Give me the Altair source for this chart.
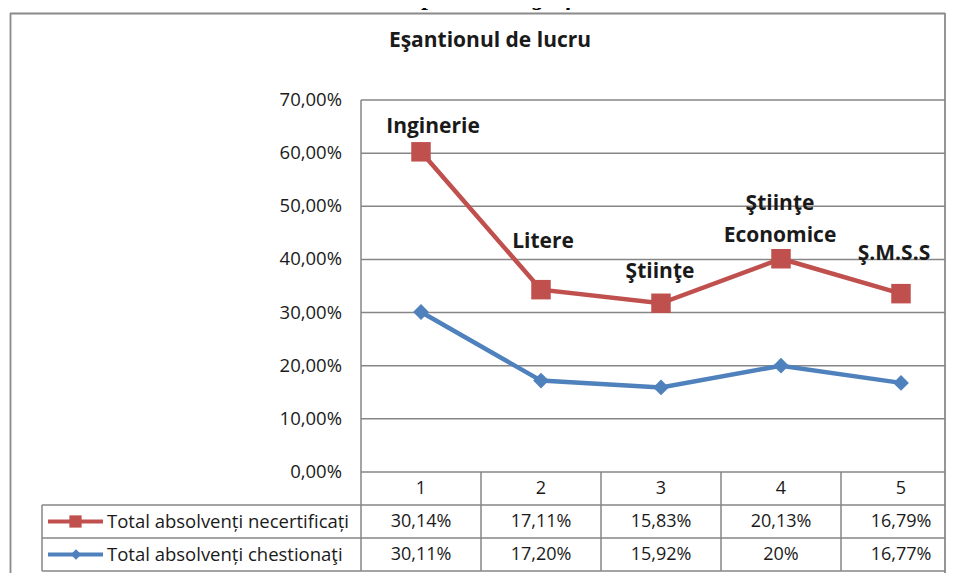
import altair as alt
import pandas as pd

# ---------------- data ----------------
categories = [1, 2, 3, 4, 5]
category_names = ["Inginerie", "Litere", "Ştiinţe", "Ştiinţe\nEconomice", "Ş.M.S.S"]
necertificati = [30.14, 17.11, 15.83, 20.13, 16.79]
chestionati = [30.11, 17.20, 15.92, 20.00, 16.77]
necertificati_labels = ["30,14%", "17,11%", "15,83%", "20,13%", "16,79%"]
chestionati_labels = ["30,11%", "17,20%", "15,92%", "20%", "16,77%"]
series_names = ["Total absolvenți necertificați", "Total absolvenți chestionaţi"]
y_ticks = [0, 10, 20, 30, 40, 50, 60, 70]
chart_title = "Eşantionul de lucru"
top_caption = "Reprezentare grafică"

RED = "#C0504D"
BLUE = "#4F81BD"
GRID = "#868686"
TXT = "#1a1a1a"
FONT = "Open Sans"

# ---------------- layout (page pixels -> scale units) ----------------
PLOT_LEFT, PLOT_TOP, W, H = 10, 13, 936, 560
PX_PER_CAT = 120.0
PX_PER_PCT = 372.0 / 70.0
XD0 = 0.5 - (361 - PLOT_LEFT) / PX_PER_CAT
XD1 = XD0 + W / PX_PER_CAT
YD1 = 70 + (100 - PLOT_TOP) / PX_PER_PCT
YD0 = YD1 - H / PX_PER_PCT


def X(px):
    return XD0 + (px - PLOT_LEFT) / PX_PER_CAT


def Y(py):
    return (472 - py) / PX_PER_PCT


xs = alt.Scale(domain=[XD0, XD1], nice=False, zero=False)
ys = alt.Scale(domain=[YD0, YD1], nice=False, zero=False)

ROW_LINES = [472, 505, 538, 571]
ROW_CENTERS = [488.5, 521.5, 554.5]
RIGHT = 945


def rules(df, color=GRID, width=1.5):
    return alt.Chart(df).mark_rule(color=color, strokeWidth=width).encode(
        x=alt.X("x:Q", scale=xs, axis=None),
        x2="x2:Q",
        y=alt.Y("y:Q", scale=ys, axis=None),
        y2="y2:Q",
    )


def texts(df, **kw):
    return alt.Chart(df).mark_text(font=FONT, color=TXT, **kw).encode(
        x=alt.X("x:Q", scale=xs, axis=None),
        y=alt.Y("y:Q", scale=ys, axis=None),
        text="t:N",
    )


# frame (left, top, right)
frame = rules(pd.DataFrame([
    dict(x=X(10.5), x2=X(10.5), y=Y(13), y2=Y(580)),
    dict(x=X(10), x2=X(RIGHT), y=Y(13.5), y2=Y(13.5)),
    dict(x=X(RIGHT), x2=X(RIGHT), y=Y(13), y2=Y(580)),
]), color="#8a8a8a", width=1.8)

# horizontal gridlines
grid = rules(pd.DataFrame([dict(x=0.5, x2=X(RIGHT), y=v, y2=v) for v in y_ticks]))

# vertical axis line + table column lines
vlines = rules(pd.DataFrame(
    [dict(x=0.5, x2=0.5, y=70, y2=Y(ROW_LINES[-1]))]
    + [dict(x=c + 0.5, x2=c + 0.5, y=0, y2=Y(ROW_LINES[-1])) for c in categories[:-1]]
    + [dict(x=X(42), x2=X(42), y=Y(ROW_LINES[1]), y2=Y(ROW_LINES[-1]))]
))

# table horizontal lines
hlines = rules(pd.DataFrame(
    [dict(x=X(42), x2=X(RIGHT), y=Y(r), y2=Y(r)) for r in ROW_LINES[1:]]
))

# y-axis labels
ylab = texts(pd.DataFrame(
    [dict(x=X(342), y=v, t=f"{v:.2f}".replace(".", ",") + "%") for v in y_ticks]
), align="right", baseline="middle", fontSize=18.5)

# table header + values
header = texts(pd.DataFrame(
    [dict(x=c, y=Y(ROW_CENTERS[0]), t=str(c)) for c in categories]
), align="center", baseline="middle", fontSize=18)
vals = texts(pd.DataFrame(
    [dict(x=c, y=Y(ROW_CENTERS[1]), t=l) for c, l in zip(categories, necertificati_labels)]
    + [dict(x=c, y=Y(ROW_CENTERS[2]), t=l) for c, l in zip(categories, chestionati_labels)]
), align="center", baseline="middle", fontSize=18)

# legend in table
leg_lines = alt.layer(
    rules(pd.DataFrame([dict(x=X(48), x2=X(103), y=Y(ROW_CENTERS[1]), y2=Y(ROW_CENTERS[1]))]),
          color=RED, width=4),
    rules(pd.DataFrame([dict(x=X(48), x2=X(103), y=Y(ROW_CENTERS[2]), y2=Y(ROW_CENTERS[2]))]),
          color=BLUE, width=4),
)
leg_sq = alt.Chart(pd.DataFrame([dict(x=X(75.5), y=Y(ROW_CENTERS[1]))])).mark_point(
    shape="square", filled=True, color=RED, size=150, opacity=1).encode(
    x=alt.X("x:Q", scale=xs, axis=None), y=alt.Y("y:Q", scale=ys, axis=None))
leg_di = alt.Chart(pd.DataFrame([dict(x=X(76), y=Y(ROW_CENTERS[2]))])).mark_point(
    shape="diamond", filled=True, color=BLUE, size=110, opacity=1).encode(
    x=alt.X("x:Q", scale=xs, axis=None), y=alt.Y("y:Q", scale=ys, axis=None))
leg_txt = texts(pd.DataFrame([
    dict(x=X(107), y=Y(ROW_CENTERS[1]), t=series_names[0]),
    dict(x=X(107), y=Y(ROW_CENTERS[2]), t=series_names[1]),
]), align="left", baseline="middle", fontSize=18.5)

# series (stacked line: red on top of blue)
df_blue = pd.DataFrame({"c": categories, "v": chestionati})
df_red = pd.DataFrame({"c": categories,
                       "v": [a + b for a, b in zip(chestionati, necertificati)]})

enc = dict(x=alt.X("c:Q", scale=xs, axis=None), y=alt.Y("v:Q", scale=ys, axis=None))
blue_line = alt.Chart(df_blue).mark_line(color=BLUE, strokeWidth=4.5).encode(**enc)
blue_pts = alt.Chart(df_blue).mark_point(shape="diamond", filled=True, color=BLUE,
                                         size=250, opacity=1).encode(**enc)
red_line = alt.Chart(df_red).mark_line(color=RED, strokeWidth=4.5).encode(**enc)
red_pts = alt.Chart(df_red).mark_point(shape="square", filled=True, color=RED,
                                       size=380, opacity=1).encode(**enc)

# category labels (offsets in px relative to red point)
label_dx = [12, 2, -1, -1, -7]
label_dy = [-25, -48, -31, -55, -40]
lab_df = pd.DataFrame({
    "x": [c + dx / PX_PER_CAT for c, dx in zip(categories, label_dx)],
    "y": [v - dy / PX_PER_PCT for v, dy in zip(df_red["v"], label_dy)],
    "t": category_names,
})
cat_labels = texts(lab_df, align="center", baseline="middle", fontSize=21,
                   fontWeight="bold", lineBreak="\n", lineHeight=32)

# titles
title = texts(pd.DataFrame([dict(x=X(490), y=Y(41), t=chart_title)]),
              align="center", baseline="middle", fontSize=21, fontWeight="bold")
caption = alt.Chart(pd.DataFrame([dict(x=X(500), y=Y(5), t=top_caption)])).mark_text(
    font="Liberation Serif", fontSize=24, fontWeight="bold", fontStyle="italic",
    color="#000000", align="center", baseline="alphabetic").encode(
    x=alt.X("x:Q", scale=xs, axis=None), y=alt.Y("y:Q", scale=ys, axis=None), text="t:N")

chart = alt.layer(
    frame, grid, vlines, hlines, ylab, header, vals, leg_lines, leg_sq, leg_di, leg_txt,
    blue_line, blue_pts, red_line, red_pts, cat_labels, title, caption,
).properties(
    width=W, height=H,
    autosize=alt.AutoSizeParams(type="none"),
    padding={"left": 2, "top": 5, "right": 0, "bottom": 0},
).configure_view(stroke=None)

chart.save("out.html", embed_options={"renderer": "svg", "actions": False})
